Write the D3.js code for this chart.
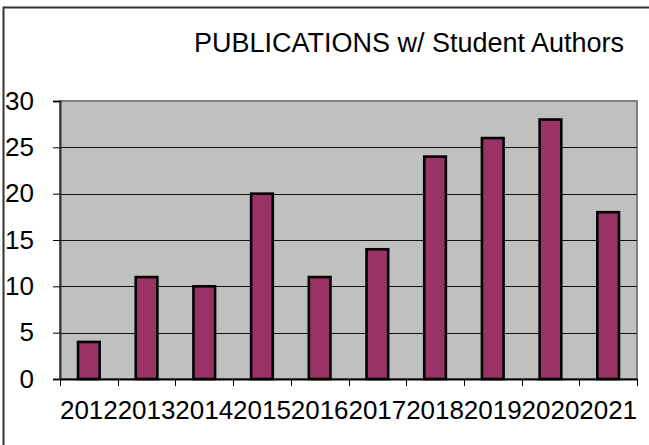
<!DOCTYPE html>
<html><head><meta charset="utf-8">
<script src="https://cdn.jsdelivr.net/npm/d3@7"></script>
<style>body{margin:0;background:#fff}svg{display:block}text{font-family:"Liberation Sans",Arial,sans-serif;fill:#000}</style>
</head><body>
<script>
const categories = ["2012","2013","2014","2015","2016","2017","2018","2019","2020","2021"];
const publications = [4, 11, 10, 20, 11, 14, 24, 26, 28, 18];
const yTicks = [0, 5, 10, 15, 20, 25, 30];
const title = "PUBLICATIONS w/ Student Authors";

const W = 649, H = 445;
const m = {left: 60, right: 12, top: 101, bottom: 66};
const svg = d3.select("body").append("svg").attr("width", W).attr("height", H);

// outer frame
svg.append("path").attr("d", `M3.5,${H} V7.5 H${W}`).attr("fill","none").attr("stroke","#333").attr("stroke-width",2);

const x = d3.scaleBand().domain(categories).range([m.left, W - m.right]).paddingInner(0).paddingOuter(0);
const y = d3.scaleLinear().domain([0, 30]).range([H - m.bottom, m.top]);

// plot area
svg.append("rect").attr("x", m.left).attr("y", m.top).attr("width", W - m.right - m.left).attr("height", y(0) - m.top)
  .attr("fill", "#c0c0c0").attr("stroke", "#808080").attr("stroke-width", 2);

// grid
svg.append("g").selectAll("line").data(yTicks.filter(d => d > 0 && d < 30)).join("line")
  .attr("x1", m.left).attr("x2", W - m.right).attr("y1", d => Math.round(y(d)) + 0.5).attr("y2", d => Math.round(y(d)) + 0.5)
  .attr("stroke", "#111").attr("stroke-width", 1);

// bars
const bw = x.bandwidth() * 0.375;
svg.append("g").selectAll("rect").data(publications).join("rect")
  .attr("x", (d, i) => x(categories[i]) + (x.bandwidth() - bw) / 2)
  .attr("y", d => y(d))
  .attr("width", bw)
  .attr("height", d => y(0) - y(d))
  .attr("fill", "#993366").attr("stroke", "#000").attr("stroke-width", 2.6);

// y axis
const ya = d3.axisLeft(y).tickValues(yTicks).tickSize(7).tickPadding(19);
const gy = svg.append("g").attr("transform", `translate(${m.left},0)`).call(ya);
gy.select(".domain").attr("stroke", "#333").attr("stroke-width", 2);
gy.selectAll(".tick line").attr("stroke", "#000");
gy.selectAll("text").attr("font-size", 26).attr("font-family", "Liberation Sans, Arial, sans-serif").attr("fill","#000");

// x axis
const xa = d3.axisBottom(x).tickSize(0).tickPadding(22);
const gx = svg.append("g").attr("transform", `translate(0,${y(0)})`).call(xa);
gx.select(".domain").attr("stroke", "#000").attr("stroke-width", 2);
gx.selectAll("text").attr("font-size", 26).attr("font-family", "Liberation Sans, Arial, sans-serif").attr("fill","#000");
// category boundary ticks
svg.append("g").selectAll("line").data(categories.concat(["end"])).join("line")
  .attr("x1", (d, i) => i < categories.length ? Math.round(x(d)) + 0.5 : W - m.right + 0.5)
  .attr("x2", (d, i) => i < categories.length ? Math.round(x(d)) + 0.5 : W - m.right + 0.5)
  .attr("y1", y(0)).attr("y2", y(0) + 7).attr("stroke", "#000");

// title
svg.append("text").attr("x", 409).attr("y", 52).attr("text-anchor", "middle").attr("font-size", 27).text(title);
</script>
</body></html>
